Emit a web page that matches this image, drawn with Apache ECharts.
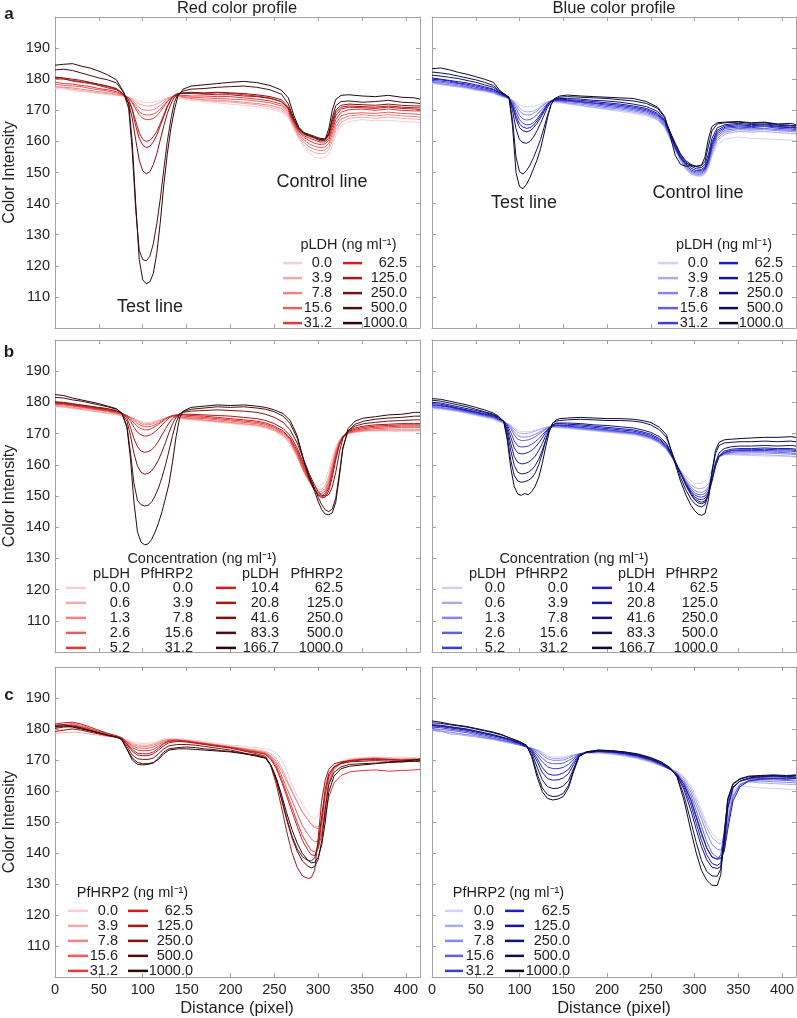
<!DOCTYPE html>
<html><head><meta charset="utf-8">
<script src="https://cdn.jsdelivr.net/npm/echarts@6/dist/echarts.min.js"></script>
<style>html,body{margin:0;padding:0;background:#fff}#c{width:797px;height:1018px}</style>
</head><body><div id="c"></div><script>
// ---------- labels ----------
const concA = ['0.0','3.9','7.8','15.6','31.2','62.5','125.0','250.0','500.0','1000.0'];
const concBLdh = ['0.0','0.6','1.3','2.6','5.2','10.4','20.8','41.6','83.3','166.7'];
const concBHrp = ['0.0','3.9','7.8','15.6','31.2','62.5','125.0','250.0','500.0','1000.0'];
const concC = ['0.0','3.9','7.8','15.6','31.2','62.5','125.0','250.0','500.0','1000.0'];
const xTicks = [0,50,100,150,200,250,300,350,400];
const yTicks = [110,120,130,140,150,160,170,180,190];

// ---------- panel a, red ----------
const aRedX = [0,10,20,30,40,50,60,70,78,84,88,92,96,100,104,108,112,116,120,124,128,132,136,140,146,155,170,185,200,215,230,245,258,266,272,278,284,290,296,302,308,312,316,320,326,335,350,365,380,395,410,416];
const aRed0 = [177.0,176.8,176.4,176.0,175.8,175.4,175.0,174.8, 174.6,174.2,173.8,173.4,172.8,172.6,172.5,172.5,172.6,172.8,173.2,173.6,174.0,174.2,174.2,174.0, 173.6,173.2,172.8,172.4,172.0,171.6,171.2,170.4,169.4, 167.4,164.0,160.6,158.0,156.2,155.0,154.6,154.8,156.0,158.6,162.0,165.0, 166.4,167.0,166.6,166.8,166.4,166.2,166.0];
const aRed1 = [177.6,177.2,176.8,176.4,176.0,175.6,175.4,175.0, 174.6,174.2,173.6,172.8,172.0,171.6,171.4,171.4,171.6,172.0,172.6,173.2,173.8,174.2,174.4,174.4, 174.0,173.6,173.2,172.8,172.6,172.2,171.8,171.0,170.0, 168.0,164.6,161.2,158.8,157.2,156.4,156.0,156.2,157.4,160.0,163.4,166.2, 167.4,167.8,167.4,167.8,167.4,167.2,167.0];
const aRed2 = [177.6,177.4,177.2,176.8,176.4,176.0,175.6,175.2, 174.6,174.0,173.2,172.0,170.8,170.2,170.0,170.0,170.2,170.8,171.6,172.6,173.6,174.2,174.6,174.6, 174.2,173.8,173.4,173.2,173.0,172.6,172.2,171.6,170.6, 168.6,165.0,161.8,159.6,158.2,157.4,157.0,157.2,158.4,161.2,164.6,167.2, 168.2,168.6,168.2,168.6,168.2,168.0,167.8];
const aRed3 = [178.4,178.0,177.8,177.6,177.0,176.6,176.2,175.6, 174.8,174.0,172.8,171.2,169.6,168.8,168.5,168.5,168.8,169.4,170.4,171.8,173.0,174.0,174.6,174.8, 174.4,174.2,174.0,173.8,173.6,173.4,173.0,172.4,171.4, 169.2,165.6,162.4,160.4,159.2,158.4,158.0,158.2,159.4,162.4,165.8,168.2, 169.0,169.2,169.0,169.4,169.0,168.8,168.6];
const aRed4 = [179.0,178.6,178.4,178.0,177.6,177.0,176.6,176.0, 175.0,174.0,172.4,170.4,168.6,167.4,167.0,167.0,167.4,168.2,169.6,171.2,172.8,174.0,174.8,175.0, 174.8,174.6,174.6,174.4,174.4,174.0,173.6,173.0,172.0, 169.8,166.0,163.0,161.2,160.2,159.4,159.0,159.2,160.4,163.5,167.0,169.4, 170.2,170.4,170.0,170.4,170.0,169.8,169.8];
const aRed5 = [180.6,180.2,179.4,179.0,178.6,178.0,177.2,176.6, 175.2,173.4,170.5,166.5,162.8,160.6,160.0,160.3,161.5,163.2,165.8,168.6,171.4,173.4,174.8,175.3, 175.6,175.6,175.4,175.6,175.4,175.0,174.6,174.0,172.8, 170.4,166.4,163.4,161.8,161.0,160.4,159.8,159.8,161.2,164.5,168.2,170.4, 171.0,170.8,170.6,171.0,170.6,170.4,170.2];
const aRed6 = [180.2,180.0,179.6,179.2,178.8,178.2,177.6,176.8, 175.3,173.2,170.0,165.0,161.0,158.8,158.0,158.4,159.8,162.0,165.0,168.0,171.0,173.4,174.8,175.4, 175.4,175.4,175.2,175.0,175.0,174.6,174.4,173.8,172.8, 170.6,166.8,163.8,162.2,161.6,161.0,160.2,160.4,162.0,165.5,169.2,171.0, 171.4,171.2,171.0,171.4,171.0,170.8,170.8];
const aRed7 = [180.7,180.4,180.0,179.6,179.0,178.4,177.8,177.0, 175.2,172.2,167.5,160.5,154.0,150.5,149.6,150.2,152.5,156.0,160.5,165.0,169.0,172.0,174.2,175.2, 175.6,175.8,175.6,175.8,175.6,175.4,175.0,174.4,173.4, 171.0,167.0,164.0,162.4,161.8,161.2,160.6,160.8,162.5,166.5,170.0,171.6, 172.0,171.8,171.6,172.0,171.6,171.4,171.4];
const aRed8 = [183.0,183.2,182.8,182.0,181.2,180.4,179.8,178.8, 175.8,170.5,157.0,138.0,125.0,122.0,121.6,123.0,127.0,133.5,141.5,151.0,160.0,167.0,172.5,175.2, 176.2,176.8,177.0,177.4,177.6,177.8,177.4,176.6,175.2, 172.0,167.5,164.2,162.6,162.0,161.2,160.6,160.4,162.5,167.5,171.5,172.8, 173.0,172.6,172.8,173.2,172.6,172.4,172.2];
const aRed9 = [184.5,184.8,185.0,184.2,183.6,182.6,181.4,179.8, 176.0,172.0,160.0,140.0,122.0,115.5,114.2,114.8,117.5,124.0,134.0,146.0,156.0,164.0,170.0,174.5, 176.8,177.8,178.2,178.6,179.0,179.3,178.9,178.0,176.5, 174.0,168.5,164.5,162.8,162.2,161.6,161.0,160.8,164.0,170.0,173.5,174.8, 175.0,174.6,174.4,174.8,174.2,174.0,173.6];

// ---------- panel a, blue ----------
const aBlueX = [0,10,20,30,40,50,60,70,78,84,88,92,96,100,104,108,112,116,120,124,128,132,136,140,146,155,170,185,200,215,230,245,258,266,272,278,284,290,296,302,308,312,316,320,326,335,350,365,380,395,410,416];
const aBlue0 = [178.6,178.2,177.8,177.4,177.0,176.4,176.0,175.4, 174.4,174.0,173.6,173.2,172.6,171.8,171.3,171.1,171.1,171.3,171.6,172.0,172.4,172.6,172.6,172.6, 172.4,172.0,171.4,170.8,170.2,169.6,169.0,168.2,166.8, 164.4,160.8,157.0,153.6,151.0,149.4,148.8,148.8,149.6,151.6,155.2,159.0, 160.8,161.4,161.0,160.8,160.6,160.4,160.2];
const aBlue1 = [178.8,178.4,178.0,177.6,177.2,176.6,176.2,175.6, 174.6,174.2,173.8,173.2,172.2,170.8,169.8,169.5,169.5,169.8,170.4,171.2,172.0,172.6,172.8,172.8, 172.6,172.2,171.6,171.0,170.4,170.0,169.4,168.6,167.0, 164.6,161.0,157.2,153.8,151.2,149.6,149.0,149.0,149.8,152.0,156.0,160.2, 162.4,163.2,163.0,163.2,162.8,162.6,162.4];
const aBlue2 = [179.0,178.6,178.2,177.8,177.4,176.8,176.4,175.8, 174.8,174.2,173.8,173.0,171.6,169.8,168.8,168.5,168.5,169.0,169.8,170.8,171.8,172.6,173.0,173.0, 172.8,172.4,172.0,171.4,170.8,170.4,169.8,169.0,167.4, 165.0,161.4,157.6,154.2,151.6,150.0,149.4,149.4,150.2,152.6,156.8,161.0, 163.0,163.8,163.6,163.8,163.4,163.2,163.0];
const aBlue3 = [179.2,179.0,178.6,178.2,177.6,177.0,176.6,176.0, 175.0,174.4,173.8,172.8,170.6,168.4,167.2,166.9,167.0,167.6,168.6,169.8,171.0,172.2,173.0,173.0, 173.0,172.8,172.4,171.8,171.2,170.8,170.2,169.4,167.8, 165.4,161.8,158.0,154.6,152.0,150.4,149.8,149.8,150.6,153.2,157.6,161.8, 163.6,164.2,164.0,164.2,163.8,163.6,163.4];
const aBlue4 = [179.6,179.4,179.0,178.6,178.0,177.4,176.8,176.2, 175.2,174.4,173.8,172.2,169.4,167.0,165.8,165.3,165.4,166.0,167.2,168.8,170.4,172.0,173.0,173.2, 173.2,173.0,172.6,172.2,171.6,171.2,170.6,169.8,168.2, 165.8,162.2,158.4,155.0,152.4,150.8,150.2,150.2,151.0,153.6,158.2,162.4, 164.2,164.6,164.4,164.8,164.2,164.0,163.8];
const aBlue5 = [180.0,179.8,179.4,178.8,178.4,177.8,177.2,176.6, 175.4,174.6,173.8,171.6,168.2,165.6,164.6,164.2,164.4,165.2,166.6,168.2,170.0,171.8,173.0,173.4, 173.4,173.2,172.8,172.4,172.0,171.6,171.0,170.2,168.6, 166.2,162.6,158.8,155.4,152.8,151.4,150.6,150.6,151.4,154.2,159.0,163.0, 164.6,165.0,164.8,165.0,164.6,164.4,164.2];
const aBlue6 = [180.4,180.0,179.6,179.2,178.8,178.2,177.6,176.8, 175.6,174.8,174.0,171.2,167.2,164.4,163.4,163.1,163.4,164.4,165.8,167.6,169.6,171.6,173.0,173.6, 173.6,173.4,173.2,172.8,172.4,172.0,171.4,170.6,169.0, 166.6,163.0,159.2,155.8,153.4,152.0,151.2,151.0,151.8,154.8,159.8,163.6, 165.0,165.4,165.0,165.4,164.8,164.6,164.4];
const aBlue7 = [181.3,181.0,180.6,180.2,179.6,179.0,178.2,177.4, 175.8,174.8,174.0,170.0,164.0,160.6,159.6,159.4,160.0,161.4,163.4,165.8,168.4,171.0,172.8,173.6, 173.8,173.8,173.6,173.2,173.0,172.6,172.0,171.2,169.6, 167.0,163.2,159.4,156.0,153.8,152.6,151.8,151.6,152.6,156.0,161.0,164.4, 165.4,165.8,165.4,165.6,165.2,165.0,164.8];
const aBlue8 = [182.3,182.0,181.6,181.0,180.4,179.8,179.0,178.0, 176.0,175.0,174.2,167.0,155.0,150.2,149.5,150.6,152.4,154.8,157.6,160.6,164.4,168.4,171.8,173.6, 174.2,174.4,174.2,174.0,173.8,173.4,173.0,172.2,170.6, 167.6,163.0,158.0,154.6,153.0,152.4,152.0,152.2,153.6,158.6,163.4,165.6, 166.0,166.2,165.8,166.0,165.4,165.2,165.0];
const aBlue9 = [183.4,183.6,183.0,182.2,181.6,180.8,180.0,179.0, 176.2,175.0,174.2,165.0,150.0,145.5,144.8,146.2,148.4,151.2,154.0,157.6,162.4,167.6,171.8,173.8, 174.6,174.9,174.6,174.4,174.2,174.0,173.8,172.8,171.0, 168.0,162.0,155.5,152.6,152.0,152.2,152.0,152.4,155.0,161.0,164.8,166.0, 166.2,166.4,166.0,166.2,165.6,165.8,165.4];

// ---------- panel b, red ----------
const bRedX = [0,10,20,30,40,50,60,70,76,82,86,90,94,98,102,106,110,114,118,122,126,130,134,138,142,146,155,170,185,200,215,230,240,250,260,268,276,284,290,296,300,304,308,312,316,320,324,328,334,342,352,365,380,395,410,416];
const bRed0 = [178.6,178.4,178.0,177.6,177.2,176.8,176.4,176.0, 175.6,175.4,175.2,174.8,174.4,174.0,173.6,173.6,173.6,174.0,174.4,174.8,175.0,175.2,175.2,175.0,174.8,174.6, 174.4,174.0,173.6,173.2,172.8,172.4,171.8,170.8,169.0, 166.6,162.2,157.4,155.0,153.6,153.4,153.6,155.0,158.4,162.6,166.0,168.2,169.4,170.2,170.6,170.8, 170.8,170.8,170.6,170.6,170.6];
const bRed1 = [178.8,178.6,178.2,177.8,177.4,177.0,176.6,176.2, 175.8,175.6,175.2,174.8,174.2,173.6,173.2,173.2,173.4,173.8,174.2,174.6,175.0,175.4,175.4,175.2,175.0,174.8, 174.6,174.2,173.8,173.4,173.0,172.6,172.0,171.0,169.4, 167.0,162.6,157.4,154.6,152.6,152.2,152.2,153.4,156.6,161.0,165.0,167.6,169.0,170.0,170.4,170.8, 171.0,171.0,171.0,171.0,171.0];
const bRed2 = [179.0,178.8,178.4,178.0,177.8,177.4,177.0,176.4, 176.0,175.6,175.2,174.6,173.8,173.2,172.8,172.8,173.0,173.4,173.8,174.4,175.0,175.4,175.6,175.4,175.2,175.0, 174.8,174.4,174.0,173.6,173.2,172.8,172.2,171.2,169.6, 167.4,163.0,157.6,154.4,152.0,151.6,151.4,152.4,155.4,160.0,164.4,167.4,169.0,170.0,170.6,171.0, 171.2,171.4,171.4,171.4,171.4];
const bRed3 = [179.4,179.2,178.8,178.4,178.0,177.6,177.2,176.6, 176.2,175.8,175.2,174.2,173.2,172.6,172.2,172.2,172.4,172.8,173.4,174.2,174.8,175.4,175.6,175.6,175.4,175.2, 175.0,174.8,174.4,174.0,173.6,173.2,172.6,171.6,170.0, 167.8,163.4,158.0,154.6,151.8,151.0,150.8,151.6,154.4,159.0,163.8,167.0,169.0,170.2,170.8,171.2, 171.6,171.8,172.0,172.0,172.0];
const bRed4 = [179.6,179.4,179.0,178.6,178.2,177.8,177.4,176.8, 176.4,175.8,174.8,173.4,172.2,171.6,171.2,171.2,171.6,172.2,173.0,173.8,174.6,175.4,175.8,175.8,175.8,175.6, 175.4,175.2,174.8,174.4,174.0,173.6,173.0,172.0,170.4, 168.2,164.0,158.6,155.0,151.8,150.6,150.2,150.8,153.4,158.0,163.0,166.8,169.0,170.4,171.0,171.6, 172.0,172.2,172.4,172.4,172.4];
const bRed5 = [179.8,179.6,179.2,178.8,178.4,178.0,177.6,177.0, 176.6,175.6,174.0,172.0,170.4,169.6,169.2,169.3,169.8,170.6,171.6,172.8,174.0,175.0,175.8,176.0,176.0,176.0, 175.8,175.6,175.2,174.8,174.4,174.0,173.4,172.4,170.8, 168.6,164.6,159.2,155.4,152.0,150.4,149.8,150.2,152.6,157.0,162.2,166.4,169.0,170.6,171.4,172.0, 172.4,172.6,172.8,172.8,172.8];
const bRed6 = [180.0,179.8,179.4,179.0,178.6,178.2,177.8,177.2, 176.6,175.0,172.0,168.4,165.8,164.4,164.0,164.2,164.8,166.0,167.6,169.6,171.6,173.4,174.8,175.8,176.2,176.2, 176.2,176.0,175.8,175.6,175.2,174.8,174.2,173.2,171.6, 169.4,165.4,160.0,156.0,152.2,150.2,149.4,149.6,151.6,156.0,161.6,166.2,169.0,170.8,171.8,172.4, 172.8,173.0,173.2,173.2,173.2];
const bRed7 = [180.2,180.0,179.6,179.2,178.8,178.4,178.0,177.4, 176.6,174.0,169.4,163.6,159.6,157.6,157.0,157.2,158.0,159.6,161.6,164.2,167.2,170.4,173.2,175.2,176.4,176.8, 177.2,177.4,177.6,177.4,177.2,176.8,176.2,175.2,173.6, 171.2,167.0,161.2,157.0,153.4,151.4,150.2,150.0,150.4,152.8,157.6,163.8,168.4,171.0,172.4,173.2, 173.6,174.0,174.2,174.4,174.4];
const bRed8 = [181.6,181.4,180.8,180.4,179.8,179.2,178.6,177.8, 176.6,172.4,164.0,154.0,148.6,147.2,146.8,147.0,148.0,150.0,152.6,156.0,160.0,164.6,169.4,173.6,176.2,177.0, 177.8,178.2,178.6,178.4,178.6,178.2,177.8,177.0,175.6, 173.2,168.6,161.0,156.4,152.4,149.6,147.2,145.6,145.0,145.8,149.4,157.0,165.4,170.8,173.0,174.0, 174.6,175.0,175.2,175.6,175.6];
const bRed9 = [182.5,182.2,181.4,180.8,180.2,179.6,178.8,178.0, 176.6,172.0,162.0,148.0,138.5,135.2,134.4,134.6,136.0,138.4,141.4,145.0,149.4,154.0,161.0,169.0,175.0,177.2, 178.4,178.8,179.2,179.0,179.2,178.8,178.4,177.6,176.4, 174.2,169.4,160.8,155.6,151.4,148.2,145.6,144.2,144.0,144.6,148.0,156.0,165.0,171.6,174.0,175.0, 175.4,176.0,176.2,176.8,176.8];

// ---------- panel b, blue ----------
const bBlueX = [0,10,20,30,40,50,60,70,76,82,86,90,94,98,102,106,110,114,118,122,126,130,134,138,142,146,155,170,185,200,215,230,240,250,260,268,276,284,290,296,300,304,308,312,316,320,324,328,334,342,352,365,380,395,410,416];
const bBlue0 = [178.0,177.8,177.4,177.0,176.4,175.8,175.2,174.6, 173.8,173.4,173.2,172.8,172.0,171.0,170.6,170.6,170.6,170.8,171.0,171.4,171.8,172.0,172.2,172.2,172.0,171.8, 171.6,171.2,170.8,170.4,170.0,169.6,169.0,168.2,166.8, 164.8,161.6,158.4,156.4,154.8,154.2,154.0,154.2,154.8,156.0,158.6,161.4,163.0,163.2,163.2,163.0, 163.0,162.8,162.8,162.6,162.4];
const bBlue1 = [178.2,178.0,177.6,177.2,176.6,176.0,175.4,174.8, 174.0,173.6,173.2,172.6,171.4,170.4,170.0,170.0,170.1,170.4,170.8,171.2,171.6,172.0,172.2,172.2,172.0,172.0, 171.8,171.4,171.0,170.6,170.2,169.8,169.2,168.4,167.0, 165.0,161.6,158.0,155.6,153.6,152.8,152.4,152.4,152.8,154.0,157.0,160.4,162.6,163.2,163.4,163.4, 163.2,163.2,163.0,162.8,162.6];
const bBlue2 = [178.4,178.2,177.8,177.4,176.8,176.2,175.6,175.0, 174.2,173.6,173.0,172.2,170.6,169.4,168.9,168.9,169.0,169.4,169.8,170.4,171.0,171.6,172.0,172.2,172.2,172.2, 172.0,171.6,171.2,170.8,170.4,170.0,169.4,168.6,167.2, 165.2,161.6,157.8,155.0,152.8,151.8,151.3,151.2,151.6,153.0,156.4,160.2,162.6,163.4,163.8,163.8, 163.8,163.8,163.6,163.4,163.2];
const bBlue3 = [178.6,178.4,178.0,177.6,177.0,176.4,175.8,175.2, 174.4,173.8,173.0,171.6,169.6,168.2,167.8,167.8,168.0,168.4,169.0,169.8,170.6,171.4,172.0,172.2,172.4,172.4, 172.2,171.8,171.4,171.0,170.6,170.2,169.6,168.8,167.4, 165.4,161.6,157.6,154.6,152.2,151.0,150.5,150.4,150.8,152.4,156.0,160.0,162.6,163.6,164.0,164.2, 164.2,164.2,164.0,163.8,163.6];
const bBlue4 = [179.0,178.8,178.4,177.8,177.2,176.6,176.0,175.4, 174.6,174.0,172.8,170.4,167.6,166.0,165.7,165.8,166.0,166.6,167.4,168.4,169.6,170.8,171.8,172.4,172.6,172.6, 172.4,172.0,171.6,171.2,170.8,170.4,169.8,169.0,167.6, 165.6,161.8,157.4,154.2,151.6,150.4,149.8,149.6,150.0,151.6,155.4,159.8,162.6,163.8,164.4,164.6, 164.6,164.6,164.4,164.4,164.2];
const bBlue5 = [179.2,179.0,178.6,178.0,177.4,176.8,176.2,175.6, 174.8,174.0,172.2,168.8,165.4,163.8,163.5,163.6,164.0,164.6,165.6,167.0,168.6,170.4,171.8,172.6,172.8,172.8, 172.6,172.4,172.0,171.6,171.2,170.8,170.2,169.4,168.0, 166.0,162.0,157.4,154.0,151.2,149.8,149.0,148.8,149.2,151.0,155.0,159.6,162.6,164.0,164.6,164.8, 164.8,165.0,164.8,164.8,164.6];
const bBlue6 = [179.6,179.4,178.8,178.2,177.6,177.0,176.4,175.8, 175.0,174.0,171.4,166.8,162.6,160.8,160.3,160.4,160.8,161.6,162.8,164.6,166.8,169.4,171.6,172.8,173.2,173.2, 173.0,172.8,172.4,172.0,171.6,171.2,170.6,169.8,168.4, 166.4,162.2,157.4,153.8,150.8,149.2,148.4,148.0,148.4,150.4,154.8,159.6,162.8,164.4,165.0,165.2, 165.2,165.4,165.2,165.2,165.0];
const bBlue7 = [180.0,179.8,179.2,178.6,178.0,177.4,176.8,176.0, 175.2,174.0,170.4,164.6,159.8,157.6,157.1,157.2,157.6,158.4,159.8,161.8,164.6,168.0,171.0,172.8,173.4,173.4, 173.4,173.2,172.8,172.6,172.2,171.8,171.2,170.4,169.0, 166.8,162.4,157.4,153.4,150.4,148.8,147.8,147.5,148.0,150.6,155.6,160.6,163.8,165.2,165.8,166.0, 166.0,166.2,166.0,166.2,166.0];
const bBlue8 = [180.7,180.4,179.8,179.2,178.6,177.8,177.0,176.2, 175.4,173.8,169.0,161.4,156.6,154.8,154.4,154.6,155.0,155.8,157.4,160.0,163.6,167.8,171.4,173.4,174.0,174.2, 174.4,174.6,174.4,174.2,174.2,174.0,173.6,172.8,171.2, 168.8,162.6,156.0,152.0,149.0,147.6,146.8,146.5,147.2,150.6,157.6,163.6,166.2,167.0,167.2,167.4, 167.4,167.6,167.4,167.6,167.4];
const bBlue9 = [181.2,181.0,180.4,179.8,179.2,178.4,177.6,176.6, 175.6,173.8,168.0,159.0,153.0,150.6,150.2,150.8,150.4,151.4,153.2,156.0,160.4,165.8,170.6,173.4,174.4,174.8, 175.0,175.2,175.0,174.8,174.8,174.6,174.2,173.6,172.0, 169.6,162.0,154.8,150.4,147.0,145.4,144.2,143.8,144.4,149.0,158.0,164.6,167.2,168.0,168.2,168.4, 168.6,168.8,168.8,169.0,168.8];

// ---------- panel c, red ----------
const cRedX = [0,10,20,30,40,50,60,70,76,82,88,94,100,106,112,118,124,130,140,150,160,170,180,190,200,210,220,230,240,246,252,258,264,270,276,282,288,292,296,300,304,308,312,318,326,336,350,365,380,395,410,416];
const cRed0 = [179.4,179.8,180.2,179.6,179.0,178.6,178.0,177.6, 177.2,176.6,175.8,175.5,175.4,175.4,175.6,176.2,176.8,177.0, 176.8,176.6,176.4,176.0,175.6,175.2,174.8,174.6,174.2,174.0,173.6, 173.2,172.4,170.4,166.6,162.0,158.4,155.6,153.0,151.6,151.0,152.0,156.6,162.4,165.8,168.2,169.6,170.4, 170.8,171.0,170.8,171.0,170.8,170.6];
const cRed1 = [178.6,178.8,179.0,178.8,178.4,178.0,177.6,177.2, 177.0,176.2,175.4,174.9,174.8,174.8,175.2,175.8,176.4,176.6, 176.6,176.4,176.0,175.6,175.2,174.8,174.4,174.0,173.6,173.2,172.8, 172.0,170.6,167.6,164.0,160.2,156.6,153.4,151.0,149.4,148.6,148.4,150.6,158.0,164.4,167.8,169.4,170.2, 170.6,170.8,170.6,170.4,170.6,170.4];
const cRed2 = [180.4,180.8,181.2,180.6,179.8,179.0,178.2,177.6, 177.2,176.0,175.0,174.5,174.4,174.4,174.8,175.4,176.2,176.6, 176.6,176.2,175.8,175.4,175.0,174.6,174.2,173.8,173.4,173.0,172.4, 171.4,169.6,166.6,163.2,159.8,156.4,153.0,150.8,149.2,148.2,147.8,149.4,156.0,163.2,167.4,169.2,170.0, 170.4,170.6,170.4,170.2,170.4,170.2];
const cRed3 = [181.0,181.4,181.8,181.2,180.2,179.2,178.4,177.8, 177.2,175.8,174.6,173.9,173.8,173.8,174.2,175.0,175.8,176.4, 176.4,176.2,175.8,175.4,175.0,174.6,174.2,173.8,173.2,172.8,172.2, 171.0,168.8,165.2,161.0,157.0,152.8,148.8,146.2,144.6,143.6,143.8,147.0,154.6,162.6,167.0,169.0,169.8, 170.2,170.4,170.2,170.0,170.2,170.0];
const cRed4 = [180.6,181.0,181.4,180.8,180.0,179.2,178.4,177.8, 177.2,175.6,174.0,173.2,173.0,173.0,173.4,174.4,175.4,176.2, 176.4,176.0,175.6,175.2,174.8,174.4,174.0,173.6,173.0,172.6,172.0, 170.6,168.0,164.0,159.4,154.8,150.0,145.6,142.6,140.8,140.4,141.6,146.0,152.0,158.0,162.6,165.0,166.2, 166.6,166.8,166.4,166.6,166.8,167.0];
const cRed5 = [181.6,182.0,182.2,181.6,180.6,179.6,178.6,177.8, 177.0,175.2,173.4,172.2,172.0,172.0,172.6,173.8,175.2,176.0, 176.2,176.0,175.6,175.2,174.8,174.4,174.0,173.4,172.8,172.4,171.8, 170.2,167.4,163.2,158.4,153.4,148.6,144.0,141.0,139.4,139.2,141.6,150.0,159.0,164.6,167.6,169.0,169.6, 170.0,170.2,170.0,169.8,170.0,169.8];
const cRed6 = [179.2,179.6,180.0,179.6,179.0,178.4,177.8,177.4, 177.0,175.0,172.8,171.6,171.4,171.4,172.0,173.2,174.6,175.6, 176.0,175.8,175.4,175.0,174.6,174.2,173.8,173.2,172.6,172.0,171.2, 168.0,162.4,155.0,147.0,140.2,135.4,132.6,131.8,132.0,134.4,145.0,157.0,163.6,167.0,168.8,169.4,169.8, 170.2,170.4,170.2,170.0,170.2,170.0];
const cRed7 = [180.2,180.6,180.8,180.2,179.4,178.6,178.0,177.4, 176.8,174.4,171.6,170.4,170.2,170.2,170.6,172.0,173.6,174.6, 175.0,175.0,174.8,174.4,174.0,173.6,173.2,172.6,172.0,171.6,170.8, 168.4,164.0,158.0,151.4,145.6,141.4,138.8,137.6,137.4,138.4,143.0,152.0,160.6,165.6,167.8,168.8,169.4, 169.6,169.8,169.6,169.4,169.6,169.4];
const cRed8 = [181.2,181.4,181.0,180.4,179.6,178.8,178.0,177.4, 176.6,173.4,170.0,168.6,168.4,168.6,169.0,170.6,172.6,173.6, 174.0,174.2,174.0,173.6,173.4,173.0,172.8,172.4,171.8,171.4,170.6, 168.2,163.6,157.4,150.8,145.0,140.6,137.4,135.8,135.2,135.6,138.0,144.0,154.0,162.0,166.0,167.8,168.6, 168.8,169.0,169.2,169.4,169.6,169.8];
const cRed9 = [180.8,181.0,180.6,180.0,179.4,178.8,178.0,177.4, 176.6,173.6,170.6,169.2,168.8,168.8,169.2,170.2,172.0,173.2, 173.6,173.6,173.4,173.2,173.0,172.8,172.6,172.2,171.8,171.2,170.6, 168.4,164.4,159.0,153.0,147.6,143.2,139.8,137.8,136.8,137.0,138.6,142.6,150.0,159.6,164.8,167.2,168.0, 168.4,168.8,169.2,169.6,170.0,170.4];

// ---------- panel c, blue ----------
const cBlueX = [0,10,20,30,40,50,60,70,80,90,100,108,114,120,126,132,138,144,150,156,162,168,176,190,205,220,235,250,262,272,280,288,296,302,308,314,320,326,330,334,338,344,352,362,375,390,405,416];
const cBlue0 = [179.8,179.2,178.8,178.4,178.0,177.6,177.2,176.6,176.0,175.4,174.8, 174.2,173.8,173.4,172.6,171.4,171.0,171.0,171.0,171.4,171.8,172.0, 172.2,172.2,171.8,171.2,170.4,169.2, 168.0,167.2,166.4,164.6,161.6,158.0,153.8,149.6,146.4,144.6,144.0,145.0,153.6,159.8,161.6,161.4, 161.0,160.8,160.6,160.4];
const cBlue1 = [180.0,179.4,178.4,178.2,177.8,177.4,177.0,176.6,176.0,175.4,174.8, 174.2,173.8,173.2,172.2,171.0,170.5,170.5,170.6,171.0,171.6,172.0, 172.2,172.4,172.0,171.4,170.6,169.4, 168.2,167.2,166.2,164.2,160.6,156.8,152.6,148.2,145.0,143.4,143.0,144.2,152.6,159.6,162.4,163.0, 162.6,162.4,162.2,162.0];
const cBlue2 = [179.6,179.2,179.0,178.6,178.2,177.8,177.2,176.8,176.2,175.6,174.8, 174.2,173.8,173.0,171.6,170.4,169.9,169.9,170.0,170.6,171.4,172.0, 172.4,172.6,172.2,171.6,170.8,169.6, 168.2,167.0,165.8,163.4,159.6,155.4,151.0,146.4,142.8,141.2,141.0,142.6,150.6,158.4,162.0,163.2, 163.2,163.0,162.8,162.6];
const cBlue3 = [180.2,179.8,179.6,179.2,178.8,178.2,177.6,177.0,176.4,175.8,175.0, 174.2,173.6,172.4,170.6,169.2,168.8,168.8,169.0,169.8,170.8,172.0, 172.4,172.6,172.4,171.8,171.0,169.8, 168.4,167.0,165.6,162.8,158.4,153.6,148.6,143.6,140.0,138.6,138.5,141.0,149.6,158.0,162.0,163.4, 163.6,163.6,163.4,163.2];
const cBlue4 = [180.6,180.4,180.0,179.6,179.2,178.6,178.0,177.4,176.8,176.0,175.2, 174.2,173.4,171.6,169.4,167.8,167.2,167.2,167.6,168.6,170.2,171.8, 172.4,172.8,172.6,172.0,171.2,170.0, 168.6,167.0,165.4,162.2,157.2,152.0,146.6,141.6,138.8,138.0,139.4,147.0,156.4,161.4,163.2,163.8, 164.0,164.2,164.0,164.0];
const cBlue5 = [181.2,181.0,180.6,180.2,179.8,179.2,178.6,178.0,177.2,176.4,175.4, 174.4,173.2,170.6,167.6,165.6,165.1,165.2,165.8,167.0,169.4,171.6, 172.4,172.8,172.6,172.2,171.4,170.2, 168.8,167.0,165.0,161.2,155.4,149.6,144.0,139.4,136.6,136.0,136.8,144.0,155.0,161.2,163.2,164.0, 164.4,164.6,164.4,164.4];
const cBlue6 = [181.0,180.8,180.4,180.0,179.6,179.0,178.4,177.8,177.2,176.4,175.4, 174.4,172.8,169.6,166.0,164.0,163.5,163.6,164.2,165.6,168.6,171.4, 172.4,172.8,172.6,172.2,171.4,170.2, 168.8,167.2,165.4,162.0,156.8,151.4,146.0,141.6,138.6,138.0,138.2,140.6,147.6,156.8,161.4,163.2, 163.8,164.0,163.8,164.0];
const cBlue7 = [181.4,181.2,180.8,180.4,180.0,179.4,178.8,178.2,177.4,176.6,175.6, 174.6,172.2,167.8,163.6,161.4,160.8,160.9,161.6,163.4,167.4,171.2, 172.4,173.0,172.8,172.4,171.6,170.4, 169.0,167.2,165.0,160.4,153.6,147.6,142.0,137.8,135.4,135.0,135.6,142.4,154.4,161.0,163.2,164.2, 164.6,164.8,164.6,164.8];
const cBlue8 = [182.0,181.8,181.4,181.0,180.6,180.0,179.4,178.8,178.0,177.0,175.8, 174.6,171.4,165.8,161.0,158.8,158.2,158.4,159.2,161.8,166.8,171.2, 172.6,173.2,173.0,172.6,171.8,170.6, 169.2,167.4,164.6,158.6,150.0,143.4,137.6,134.0,132.6,132.5,134.8,145.4,157.2,162.2,163.8,164.6, 164.8,165.0,164.8,165.0];
const cBlue9 = [182.6,182.2,181.6,181.2,180.8,180.2,179.6,179.0,178.2,177.0,176.0, 174.8,171.0,164.6,159.8,157.6,157.1,157.4,158.2,161.0,166.4,171.0, 172.6,173.2,173.0,172.6,172.0,170.8, 169.4,167.6,164.6,157.0,147.0,140.0,134.4,131.2,129.6,129.5,133.0,146.0,157.6,162.4,164.0,164.8, 165.0,165.2,165.0,165.2];

// ---------- styles ----------
const FONT = '"Liberation Sans", Arial, Helvetica, sans-serif';
const redShades = ['#f6cfcf','#f2a9a9','#ee8484','#ea5d5d','#e43838','#d31c1c','#ab1616','#7b1313','#4e0e0e','#2a0909'];
const blueShades = ['#d2d2f7','#ababf0','#8686eb','#6060e6','#3c3cdc','#1e1ec6','#1717a4','#12127c','#0e0e55','#0a0a2e'];
const AX = '#a3a3a3';
const TXT = '#1e1e1e';

const panels = [
  {key:'aR', x:aRedX,  ys:[aRed0,aRed1,aRed2,aRed3,aRed4,aRed5,aRed6,aRed7,aRed8,aRed9], colors:redShades,  grid:{left:55, top:17, width:365, height:311}, row:0, col:0},
  {key:'aB', x:aBlueX, ys:[aBlue0,aBlue1,aBlue2,aBlue3,aBlue4,aBlue5,aBlue6,aBlue7,aBlue8,aBlue9], colors:blueShades, grid:{left:432, top:17, width:364, height:311}, row:0, col:1},
  {key:'bR', x:bRedX,  ys:[bRed0,bRed1,bRed2,bRed3,bRed4,bRed5,bRed6,bRed7,bRed8,bRed9], colors:redShades,  grid:{left:55, top:340, width:365, height:312}, row:1, col:0},
  {key:'bB', x:bBlueX, ys:[bBlue0,bBlue1,bBlue2,bBlue3,bBlue4,bBlue5,bBlue6,bBlue7,bBlue8,bBlue9], colors:blueShades, grid:{left:432, top:340, width:364, height:312}, row:1, col:1},
  {key:'cR', x:cRedX,  ys:[cRed0,cRed1,cRed2,cRed3,cRed4,cRed5,cRed6,cRed7,cRed8,cRed9], colors:redShades,  grid:{left:55, top:667, width:365, height:310}, row:2, col:0},
  {key:'cB', x:cBlueX, ys:[cBlue0,cBlue1,cBlue2,cBlue3,cBlue4,cBlue5,cBlue6,cBlue7,cBlue8,cBlue9], colors:blueShades, grid:{left:432, top:667, width:364, height:310}, row:2, col:1}
];

const grids = [], xAxes = [], yAxes = [], series = [];
panels.forEach((p, g) => {
  grids.push(Object.assign({containLabel:false, outerBoundsMode:'none'}, p.grid));
  const xBase = {gridIndex:g, type:'value', min:0, max:416, interval:50,
    axisLine:{show:true, onZero:false, lineStyle:{color:AX, width:1}},
    axisTick:{show:true, inside:true, length:4, lineStyle:{color:AX}},
    splitLine:{show:false}};
  xAxes.push(Object.assign({}, xBase, {position:'bottom',
    axisLabel:{show:p.row===2, margin:5, fontSize:14.5, color:TXT, fontFamily:FONT,
      formatter:v => xTicks.indexOf(v) >= 0 ? String(v) : ''}}));
  xAxes.push(Object.assign({}, xBase, {position:'top', axisLabel:{show:false}}));
  const yBase = {gridIndex:g, type:'value', min:100, max:200, interval:10,
    axisLine:{show:true, onZero:false, lineStyle:{color:AX, width:1}},
    axisTick:{show:true, inside:true, length:4, lineStyle:{color:AX}},
    splitLine:{show:false}};
  yAxes.push(Object.assign({}, yBase, {position:'left',
    axisLabel:{show:p.col===0, margin:5, fontSize:14.5, color:TXT, fontFamily:FONT,
      formatter:v => yTicks.indexOf(v) >= 0 ? String(v) : ''}}));
  yAxes.push(Object.assign({}, yBase, {position:'right', axisLabel:{show:false}}));
  p.ys.forEach((ys, i) => {
    series.push({type:'line', name:p.key + i, xAxisIndex:2*g, yAxisIndex:2*g,
      data:p.x.map((x, k) => [x, ys[k]]), symbol:'none', showSymbol:false, smooth:false,
      lineStyle:{width:1, color:p.colors[i]}, itemStyle:{color:p.colors[i]}, color:p.colors[i],
      silent:true, animation:false, z:2 + i * 0.01});
  });
});

function legendCol(key, from, texts, left, iconW, widths, centerY, lh) {
  const names = [], map = {}, ks = ['a','b'];
  for (let i = 0; i < 5; i++) {
    const n = key + (from + i);
    names.push(n);
    map[n] = texts.map((arr, j) => '{' + ks[j] + '|' + arr[from + i] + '}').join('');
  }
  const rich = {};
  widths.forEach((w, j) => { rich[ks[j]] = {width:w, align:'right', fontSize:14.5, lineHeight:lh, color:TXT, fontFamily:FONT}; });
  return {orient:'vertical', left:left, top:centerY - lh / 2, itemWidth:iconW, itemHeight:2.5, itemGap:0,
    icon:'rect', padding:0, selectedMode:false, data:names, formatter:n => map[n],
    textStyle:{fontSize:14.5, lineHeight:lh, color:TXT, fontFamily:FONT, rich:rich}};
}

const legends = [
  legendCol('aR', 0, [concA], 283, 19, [25], 262, 12.8),
  legendCol('aR', 5, [concA], 343, 19, [40], 262, 12.8),
  legendCol('aB', 0, [concA], 658, 20, [25], 262, 12.8),
  legendCol('aB', 5, [concA], 719, 19, [40], 262, 12.8),
  legendCol('bR', 0, [concBLdh, concBHrp], 66, 20, [39, 63], 587, 13.25),
  legendCol('bR', 5, [concBLdh, concBHrp], 216, 20, [38, 64], 587, 13.25),
  legendCol('bB', 0, [concBLdh, concBHrp], 442, 20, [38, 63], 587, 13.25),
  legendCol('bB', 5, [concBLdh, concBHrp], 592, 20, [38, 63], 587, 13.25),
  legendCol('cR', 0, [concC], 68, 20, [25], 910, 13.25),
  legendCol('cR', 5, [concC], 128, 20, [40], 910, 13.25),
  legendCol('cB', 0, [concC], 445, 18, [26], 910, 13.25),
  legendCol('cB', 5, [concC], 505, 19, [41], 910, 13.25)
];

function T(text, x, y, size, align, extra) {
  const o = {type:'text', x:x, y:y, silent:true,
    style:Object.assign({text:text, fontSize:size, fontFamily:FONT, fill:TXT, align:align || 'center', verticalAlign:'middle'}, (extra && extra.style) || {})};
  if (extra && extra.rotation) o.rotation = extra.rotation;
  return o;
}
const unit = '(ng ml\u207B\u00B9)';
const graphics = [
  T('Red color profile', 237, 8, 16.5),
  T('Blue color profile', 614, 8, 16.5),
  T('a', 9, 14, 17, 'center', {style:{fontWeight:'bold'}}),
  T('b', 9, 352, 17, 'center', {style:{fontWeight:'bold'}}),
  T('c', 9, 695, 17, 'center', {style:{fontWeight:'bold'}}),
  T('Color Intensity', 10, 172.5, 16, 'center', {rotation:Math.PI / 2}),
  T('Color Intensity', 10, 496, 16, 'center', {rotation:Math.PI / 2}),
  T('Color Intensity', 10, 822, 16, 'center', {rotation:Math.PI / 2}),
  T('Distance (pixel)', 237, 1008, 16.5),
  T('Distance (pixel)', 614, 1008, 16.5),
  T('Control line', 322, 182, 18),
  T('Test line', 150, 307, 18),
  T('Test line', 524, 203, 18),
  T('Control line', 698, 193, 18),
  T('pLDH ' + unit, 348.5, 245, 14.5),
  T('pLDH ' + unit, 724, 245, 14.5),
  T('Concentration ' + unit, 202, 559, 14.5),
  T('pLDH', 130, 574, 14.5, 'right'), T('PfHRP2', 193, 574, 14.5, 'right'),
  T('pLDH', 279, 574, 14.5, 'right'), T('PfHRP2', 343, 574, 14.5, 'right'),
  T('Concentration ' + unit, 574, 559, 14.5),
  T('pLDH', 506, 574, 14.5, 'right'), T('PfHRP2', 568, 574, 14.5, 'right'),
  T('pLDH', 655, 574, 14.5, 'right'), T('PfHRP2', 718, 574, 14.5, 'right'),
  T('PfHRP2 ' + unit, 132.5, 893, 14.5),
  T('PfHRP2 ' + unit, 508.5, 893, 14.5)
];

const chart = echarts.init(document.getElementById('c'), null, {renderer:'canvas'});
chart.setOption({
  animation:false,
  backgroundColor:'#ffffff',
  textStyle:{fontFamily:FONT},
  grid:grids, xAxis:xAxes, yAxis:yAxes, series:series,
  legend:legends, graphic:graphics, tooltip:{show:false}
});
</script></body></html>
